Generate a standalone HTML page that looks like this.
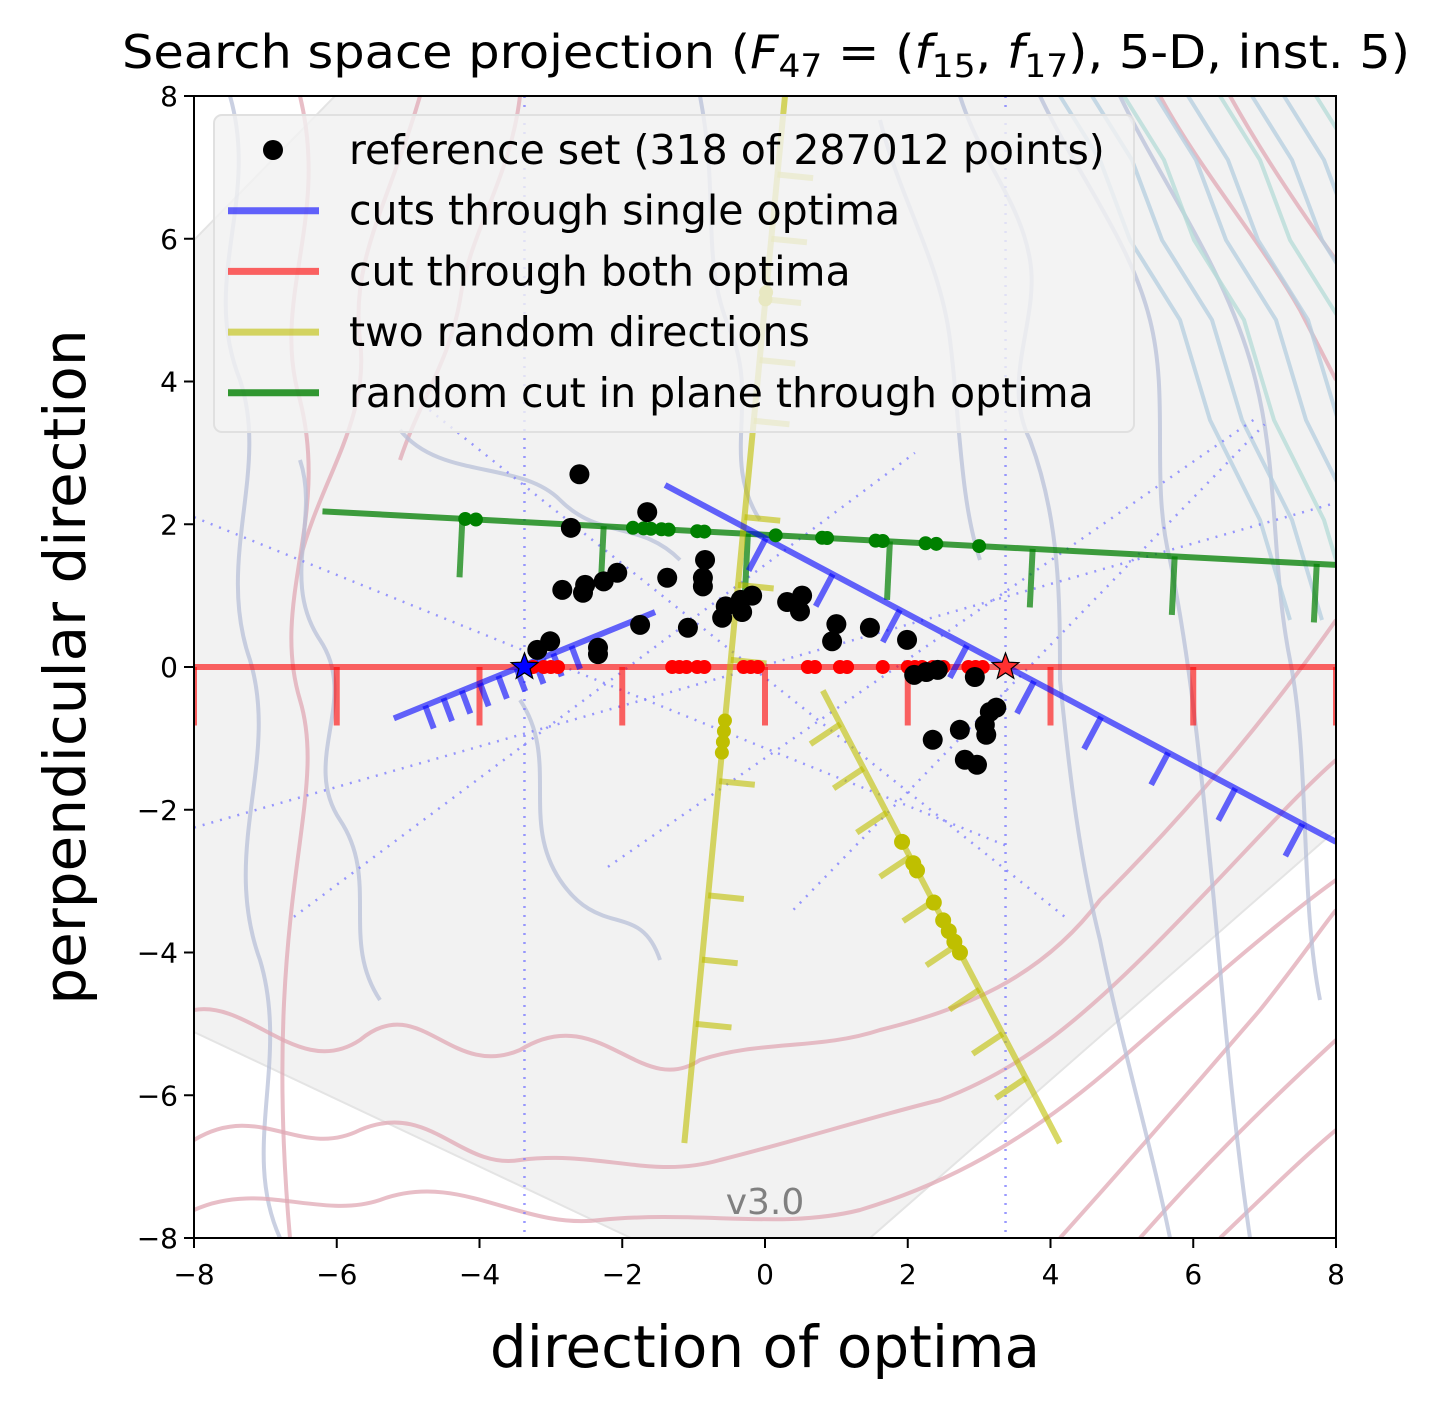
<!DOCTYPE html>
<html><head><meta charset="utf-8"><style>
html,body{margin:0;padding:0;background:#fff;}
svg{display:block;font-family:"DejaVu Sans","Liberation Sans",sans-serif;}
</style></head><body>
<svg id="chart" width="1439" height="1410" viewBox="0 0 1439 1410" xmlns="http://www.w3.org/2000/svg">
<defs><clipPath id="clip"><rect x="194" y="96" width="1142" height="1142"/></clipPath></defs>
<text x="766" y="68" font-size="46" text-anchor="middle" textLength="1288" lengthAdjust="spacingAndGlyphs">Search space projection (<tspan font-style="italic">F</tspan><tspan font-size="32" dy="9">47</tspan><tspan dy="-9"> = (</tspan><tspan font-style="italic">f</tspan><tspan font-size="32" dy="9">15</tspan><tspan dy="-9">, </tspan><tspan font-style="italic">f</tspan><tspan font-size="32" dy="9">17</tspan><tspan dy="-9">), 5-D, inst. 5)</tspan></text>
<g id="plot" clip-path="url(#clip)"></g>
<rect x="194" y="96" width="1142" height="1142" fill="none" stroke="#000" stroke-width="2"/>
<g id="axes"></g>
<text x="765" y="1367" font-size="58" text-anchor="middle">direction of optima</text>
<text transform="translate(85,667) rotate(-90)" font-size="58" text-anchor="middle">perpendicular direction</text>
</svg>
<script>
const refX=[-2.6,-2.72,-1.65,-2.84,-2.52,-2.26,-2.07,-2.55,-2.34,-2.34,-1.75,-3.01,-3.19,-1.37,-1.08,-0.84,-0.87,-0.87,-0.55,-0.6,-0.32,-0.18,-0.34,0.31,0.52,0.49,1.0,0.94,1.47,1.99,2.09,2.26,2.42,2.94,2.35,2.73,3.1,3.08,3.15,3.24,2.8,2.97];
const refY=[2.7,1.95,2.17,1.08,1.15,1.2,1.32,1.04,0.27,0.18,0.59,0.36,0.24,1.25,0.55,1.5,1.25,1.13,0.85,0.69,0.77,1.0,0.94,0.91,1.0,0.78,0.6,0.36,0.55,0.38,-0.11,-0.07,-0.04,-0.14,-1.02,-0.88,-0.95,-0.81,-0.63,-0.57,-1.3,-1.37];
const redDotsX=[-3.25,-3.1,-3.0,-2.9,-1.3,-1.2,-1.1,-0.95,-0.85,-0.3,-0.2,-0.1,0.6,0.7,1.05,1.15,1.65,2.0,2.1,2.2,2.35,2.5,2.85,2.95,3.05];
const greenLine=[[-6.2,2.18],[8,1.43]];
const greenTicksX=[-4.24,-2.26,-0.24,1.75,3.75,5.74,7.73];
const greenDotsX=[-4.2,-4.05,-1.85,-1.7,-1.6,-1.45,-1.35,-0.95,-0.85,0.15,0.8,0.87,1.55,1.65,2.25,2.4,3.0];
const blueLine1=[[-5.2,-0.72],[-1.54,0.77]];
const blueLine2=[[-1.4,2.55],[8,-2.45]];
const yellowLine1=[[-1.13,-6.67],[0.28,8]];
const yellowLine2=[[0.81,-0.33],[4.13,-6.67]];
const yellow1DotsY=[-0.75,-0.9,-1.05,-1.2,5.15,5.25];
const yellow2DotsY=[-2.45,-2.75,-2.85,-3.3,-3.55,-3.7,-3.85,-4.0];
const yellow1TicksY=[-5.0,-4.1,-3.2,-1.6,0.1,1.15,2.1,3.45,4.3,5.15,6.0,6.9];
const stars=[[-3.37,0],[3.37,0]];
const xTicks=[-8,-6,-4,-2,0,2,4,6,8];
const yTicks=[-8,-6,-4,-2,0,2,4,6,8];

const NS="http://www.w3.org/2000/svg";
const X=v=>765+v*71.375, Y=v=>667-v*71.375;
const plot=document.getElementById('plot'), axes=document.getElementById('axes');
function mk(tag,attrs,parent){const e=document.createElementNS(NS,tag);for(const k in attrs)e.setAttribute(k,attrs[k]);(parent||plot).appendChild(e);return e;}

let bg=mk('polygon',{points:"194,240 335,96 1336,96 1336,830 870,1238 631,1238 194,1032",fill:"#f2f2f2",stroke:"#e4e4e4","stroke-width":2});



const contours=[
 ["M230,96 C260,200 200,280 240,380 C270,470 215,560 250,660 C280,760 220,850 260,960 C290,1060 240,1150 280,1238","#b8c0d8"],
 ["M300,96 C330,220 270,300 300,400 C330,520 270,600 300,700 C330,800 260,900 290,1238","#e0a8b4"],
 ["M420,96 C390,200 350,260 360,340 C370,420 320,480 300,560","#e0a8b4"],
 ["M520,96 C510,180 470,230 460,300 C450,360 420,400 400,460","#e0a8b4"],
 ["M194,1010 C250,1000 300,1080 360,1040 C420,990 450,1080 520,1050 C600,1000 640,1100 700,1060 C760,1040 820,1050 880,1030 C960,1010 1040,980 1100,900 C1200,800 1280,700 1336,620","#e0a8b4"],
 ["M194,1140 C260,1100 300,1160 360,1130 C430,1100 460,1170 520,1160 C600,1150 650,1180 720,1160 C800,1140 860,1120 940,1100 C1020,1070 1080,1020 1150,950 C1230,870 1290,800 1336,760","#e0a8b4"],
 ["M194,1210 C260,1180 320,1220 380,1200 C460,1170 520,1230 600,1220 C700,1210 780,1230 860,1210 C960,1180 1040,1130 1120,1060 C1200,990 1280,920 1336,880","#e0a8b4"],
 ["M1060,1238 C1130,1160 1200,1080 1260,1010 C1300,960 1320,930 1336,910","#e0a8b4"],
 ["M1140,1238 C1200,1170 1260,1110 1336,1040","#e0a8b4"],
 ["M1220,1238 C1260,1200 1300,1160 1336,1130","#e0a8b4"],
 ["M700,96 C720,200 700,260 730,330 C760,400 720,460 760,520","#b8c0d8"],
 ["M960,96 C980,160 1020,200 1030,260 C1040,320 1000,380 1030,440 C1060,520 1060,600 1060,680 C1070,780 1080,860 1100,940 C1120,1040 1150,1140 1170,1238","#b8c0d8"],
 ["M1040,96 C1080,180 1130,240 1150,320 C1170,400 1150,480 1170,560 C1190,660 1200,760 1210,860 C1220,960 1230,1100 1250,1238","#b8c0d8"],
 ["M1120,96 C1160,180 1220,260 1250,360 C1280,460 1270,560 1290,660 C1310,760 1300,900 1320,1000","#b8c0d8"],
 ["M880,120 C900,200 940,260 950,340 C960,420 960,500 980,560","#b8c0d8"],
 ["M400,430 C440,480 520,460 560,500 C600,540 640,520 680,560","#b8c0d8"],
 ["M300,460 C320,520 280,580 320,640 C360,700 300,760 340,820 C380,880 340,940 380,1000","#b8c0d8"],
 ["M520,700 C560,760 520,820 560,880 C600,940 640,900 660,960","#b8c0d8"],
 ["M1160,96 C1200,170 1260,240 1300,310 L1336,380","#e0a8b4"],
 ["M1230,96 C1260,150 1300,210 1336,260","#e0a8b4"]
];
contours.forEach(c=>{
 const p=mk('path',{d:c[0],fill:"none",stroke:c[1],"stroke-width":4,opacity:0.75});
 
 
});
for(let i=0;i<9;i++){
 const x0=1060+i*32;
 const p=mk('path',{d:`M${x0},96 L${x0+40},160 L${x0+70},240 L${x0+120},320 L${x0+150},420 L${x0+200},520 L${x0+230},620`,fill:"none",stroke:i%3==2?"#b8dcd8":"#b8d0e0","stroke-width":4,opacity:0.8});
 
 
}

const guides=[[-3.37,8,-3.37,-8],[3.37,8,3.37,-8],[-8,2.1,3.37,-2.5],[-8,-2.25,8,2.3],[-4.7,3.6,4.2,-3.5],[-6.6,-3.5,2.1,3.0],[-2.2,-2.8,6.9,3.5],[0.4,-3.4,7.0,3.4]];
guides.forEach(g=>{
 const l=mk('line',{x1:X(g[0]),y1:Y(g[1]),x2:X(g[2]),y2:Y(g[3]),stroke:"#8080ff","stroke-width":2.5,"stroke-dasharray":"2,7",opacity:0.8});
 
 
});

function line(seg,color,w,op,name){
 const l=mk('line',{x1:X(seg[0][0]),y1:Y(seg[0][1]),x2:X(seg[1][0]),y2:Y(seg[1][1]),stroke:color,"stroke-width":w,opacity:op});
 
 
}
function tick(x,y,dx,dy,color,op,name){
 const l=mk('line',{x1:X(x),y1:Y(y),x2:X(x+dx),y2:Y(y+dy),stroke:color,"stroke-width":6,opacity:op});
 
 
}
function dot(x,y,r,color,name){
 const c=mk('circle',{cx:X(x),cy:Y(y),r:r,fill:color});
 
 
}
function onLine(seg,t){return [seg[0][0]+(seg[1][0]-seg[0][0])*t,seg[0][1]+(seg[1][1]-seg[0][1])*t];}

line([[-8,0],[8,0]],"#ff0000",6,0.6,'red-cut-line');
xTicks.forEach(x=>tick(x,0,0,-0.82,"#ff0000",0.6,'red-cut-tick'));
line(greenLine,"#007f00",6,0.75,'green-cut-line');
const gY=x=>greenLine[0][1]+(x-greenLine[0][0])*(greenLine[1][1]-greenLine[0][1])/(greenLine[1][0]-greenLine[0][0]);
greenTicksX.forEach(x=>tick(x,gY(x),-0.04,-0.82,"#007f00",0.7,'green-cut-tick'));
line(yellowLine1,"#bfbf00",6,0.6,'yellow-line-1');
line(yellowLine2,"#bfbf00",6,0.6,'yellow-line-2');
const y1X=y=>yellowLine1[0][0]+(y-yellowLine1[0][1])*(yellowLine1[1][0]-yellowLine1[0][0])/(yellowLine1[1][1]-yellowLine1[0][1]);
const y2X=y=>yellowLine2[0][0]+(y-yellowLine2[0][1])*(yellowLine2[1][0]-yellowLine2[0][0])/(yellowLine2[1][1]-yellowLine2[0][1]);
yellow1TicksY.forEach(yy=>tick(y1X(yy),yy,0.5,-0.05,"#bfbf00",0.6,'yellow-1-tick'));
for(let yy=-0.8;yy>=-6.2;yy-=0.62) tick(y2X(yy),yy,-0.42,-0.28,"#bfbf00",0.6,'yellow-2-tick');
line(blueLine1,"#0000ff",6,0.6,'blue-cut-line-1');
line(blueLine2,"#0000ff",6,0.6,'blue-cut-line-2');
for(let t=0.12;t<0.75;t+=0.07){const p=onLine(blueLine1,t);tick(p[0],p[1],0.12,-0.32,"#0000ff",0.6,'blue-1-tick');}
for(let t=0.15;t<1;t+=0.1){const p=onLine(blueLine2,t);tick(p[0],p[1],-0.24,-0.45,"#0000ff",0.6,'blue-2-tick');}

redDotsX.forEach(x=>dot(x,0,7,"#ff0000",'red-cut-sample'));
greenDotsX.forEach(x=>dot(x,gY(x),7,"#008000",'green-cut-sample'));
yellow1DotsY.forEach(y=>dot(y1X(y),y,7,"#bfbf00",'yellow-1-sample'));
yellow2DotsY.forEach(y=>dot(y2X(y),y,8,"#bfbf00",'yellow-2-sample'));
refX.forEach((x,i)=>dot(x,refY[i],10,"#000",'reference-point'));

function star(cx,cy,r,fill,name){
 let pts=[];for(let i=0;i<10;i++){const a=-Math.PI/2+i*Math.PI/5;const rr=i%2?r*0.42:r;pts.push((cx+rr*Math.cos(a)).toFixed(1)+','+(cy+rr*Math.sin(a)).toFixed(1));}
 const s=mk('polygon',{points:pts.join(' '),fill:fill,stroke:"#000","stroke-width":1.2});
 
 
}
star(X(stars[0][0]),Y(stars[0][1]),14,"#0000ff",'optimum-star-1');
star(X(stars[1][0]),Y(stars[1][1]),14,"#ff3030",'optimum-star-2');

const v=mk('text',{x:765,y:1214,"font-size":36,fill:"#808080","text-anchor":"middle"});v.textContent="v3.0";



const lg=mk('g',{});


mk('rect',{x:214,y:115,width:920,height:317,rx:8,fill:"#f2f2f2","fill-opacity":0.8,stroke:"#e0e0e0","stroke-width":2},lg);
const legItems=[["dot","#000","reference set (318 of 287012 points)"],["line","#0000ff","cuts through single optima"],["line","#ff0000","cut through both optima"],["line","#bfbf00","two random directions"],["line","#007f00","random cut in plane through optima"]];
legItems.forEach((it,i)=>{
 const yy=150+i*60.7;
 const g=mk('g',{},lg);
 
 
 if(it[0]=="dot") mk('circle',{cx:273,cy:yy,r:10,fill:it[1]},g);
 else mk('line',{x1:228,y1:yy,x2:319,y2:yy,stroke:it[1],"stroke-width":7,opacity:it[1]=="#007f00"?0.8:0.6},g);
 const t=mk('text',{x:349,y:yy+14,"font-size":41},g);t.textContent=it[2];
});

xTicks.forEach(v=>{
 const l=mk('line',{x1:X(v),y1:1238,x2:X(v),y2:1248,stroke:"#000","stroke-width":2},axes);
 
 
 const t=mk('text',{x:X(v),y:1284,"font-size":28,"text-anchor":"middle"},axes);
 t.textContent=v<0?"\u2212"+(-v):String(v);
 
 
});
yTicks.forEach(v=>{
 const l=mk('line',{x1:184,y1:Y(v),x2:194,y2:Y(v),stroke:"#000","stroke-width":2},axes);
 
 
 const t=mk('text',{x:178,y:Y(v)+10,"font-size":28,"text-anchor":"end"},axes);
 t.textContent=v<0?"\u2212"+(-v):String(v);
 
 
});
</script>
</body></html>
